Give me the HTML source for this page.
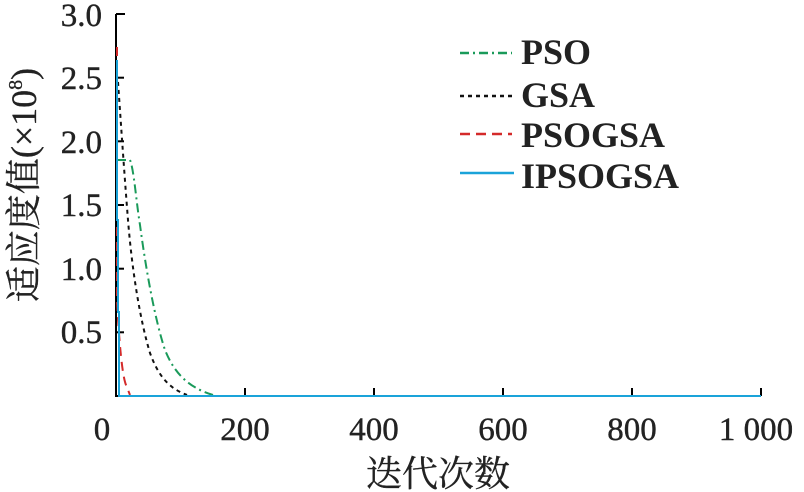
<!DOCTYPE html>
<html><head><meta charset="utf-8"><style>
body{margin:0;background:#fff;}
svg{display:block;font-family:"Liberation Serif","Noto Serif CJK SC",serif;}
</style></head><body>
<svg width="804" height="492" viewBox="0 0 804 492">
<g stroke="#000" stroke-width="2" fill="none">
<line x1="116" y1="14" x2="116" y2="397"/>
<line x1="115" y1="396" x2="761" y2="396"/>
<line x1="116" y1="14" x2="125" y2="14"/>
<line x1="116" y1="77.7" x2="124" y2="77.7"/>
<line x1="116" y1="141.3" x2="124" y2="141.3"/>
<line x1="116" y1="205" x2="124" y2="205"/>
<line x1="116" y1="268.7" x2="124" y2="268.7"/>
<line x1="116" y1="332.3" x2="124" y2="332.3"/>
<line x1="245" y1="396" x2="245" y2="388"/>
<line x1="374" y1="396" x2="374" y2="388"/>
<line x1="503" y1="396" x2="503" y2="388"/>
<line x1="632" y1="396" x2="632" y2="388"/>
<line x1="761" y1="396" x2="761" y2="388"/>
</g>
<g font-size="33" fill="#222" text-anchor="end" stroke="#222" stroke-width="0.4">
<text x="102" y="26">3.0</text>
<text x="102" y="89">2.5</text>
<text x="102" y="153">2.0</text>
<text x="102" y="216">1.5</text>
<text x="102" y="280">1.0</text>
<text x="102" y="343">0.5</text>
</g>
<g font-size="33" fill="#222" text-anchor="middle" stroke="#222" stroke-width="0.4">
<text x="102" y="440">0</text>
<text x="245" y="440">200</text>
<text x="374" y="440">400</text>
<text x="503" y="440">600</text>
<text x="632" y="440">800</text>
<text x="756" y="440">1 000</text>
<text x="438" y="486" font-size="36" stroke-width="0.3">迭代次数</text>
</g>
<text transform="translate(36,185) rotate(-90)" font-size="36" fill="#222" text-anchor="middle" stroke="#222" stroke-width="0.3">适应度值(×10<tspan font-size="20" dy="-14">8</tspan><tspan dy="14">)</tspan></text>
<g fill="none" stroke-width="2">
<path d="M117,160 L130,160 C134,170 136,200 140,225 C146,270 155,320 165,350 C175,375 190,388 213,395" stroke="#1a9a5a" stroke-dasharray="9,4,2,4"/>
<path d="M118,82 C120,110 124,170 128,220 C132,270 140,320 150,353 C158,375 168,388 187,395" stroke="#111" stroke-dasharray="4,4"/>
<path d="M117,47 L117,300 C119,340 122,375 126,385 L130,395" stroke="#d42a2a" stroke-dasharray="9,6"/>
<path d="M117,60 L117,220 L118,220 L118,312 L119,312 L119,396 L761,396" stroke="#1aa3d9"/>
</g>
<g stroke-width="2.5" fill="none">
<line x1="460" y1="53" x2="512" y2="53" stroke="#1a9a5a" stroke-dasharray="9,4,2,4"/>
<line x1="460" y1="96" x2="512" y2="96" stroke="#111" stroke-dasharray="4,4"/>
<line x1="460" y1="134" x2="512" y2="134" stroke="#d42a2a" stroke-dasharray="10,6"/>
<line x1="460" y1="173" x2="514" y2="173" stroke="#1aa3d9"/>
</g>
<g font-size="36" font-weight="bold" fill="#222">
<text x="521" y="64">PSO</text>
<text x="521" y="107">GSA</text>
<text x="521" y="147">PSOGSA</text>
<text x="521" y="188">IPSOGSA</text>
</g>
</svg>
</body></html>
